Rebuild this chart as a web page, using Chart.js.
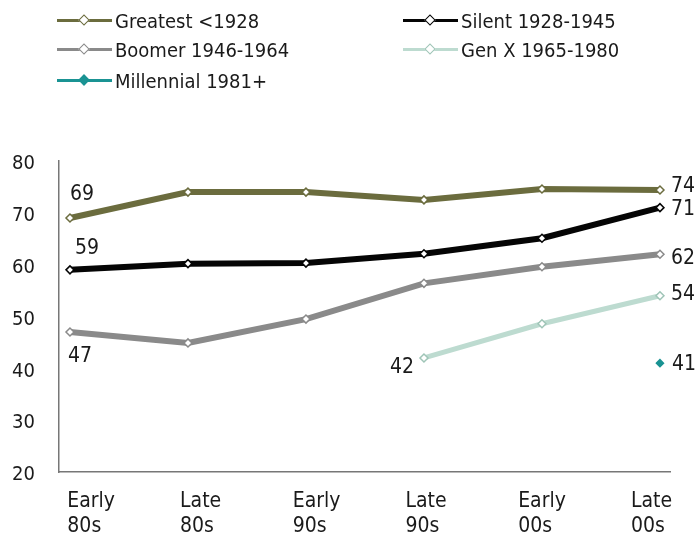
<!DOCTYPE html>
<html><head><meta charset="utf-8">
<script src="https://cdn.jsdelivr.net/npm/chart.js@4"></script>
<style>
html,body{margin:0;padding:0;background:#fff;}
#wrap{position:relative;width:696px;height:537px;overflow:hidden;}
canvas{position:absolute;left:0;top:0;}
.lg{position:absolute;font-family:'DejaVu Sans Condensed','DejaVu Sans',sans-serif;font-size:20px;color:#1a1a1a;white-space:nowrap;line-height:24px;}
.sw{position:absolute;height:3px;width:55px;}
.dm{position:absolute;width:6px;height:6px;transform:rotate(45deg);border:1.5px solid;box-sizing:content-box;}
</style></head>
<body><div id="wrap"><canvas id="c" width="696" height="537"></canvas><div id="legend"></div></div>
<script>
// ---- data ----
const categories = [['Early','80s'],['Late','80s'],['Early','90s'],['Late','90s'],['Early','00s'],['Late','00s']];
const seriesNames = ['Greatest <1928','Silent 1928-1945','Boomer 1946-1964','Gen X 1965-1980','Millennial 1981+'];
const greatest   = [69, 74, 74, 72.5, 74.6, 74.4];
const silent     = [59, 60.2, 60.3, 62.1, 65.1, 71];
const boomer     = [47, 44.9, 49.5, 56.4, 59.6, 62];
const genX       = [null, null, null, 42, 48.6, 54];
const millennial = [null, null, null, null, null, 41];
const yTicks = [20, 30, 40, 50, 60, 70, 80];

// ---- styles ----
const FONT = "'DejaVu Sans Condensed','DejaVu Sans',sans-serif";
const colors = ['#6b6c3e', '#050505', '#8a8a8a', '#bddbd0', '#1a9393'];
const lineWidths = [6, 6, 6, 5, 0];
const allSeries = [greatest, silent, boomer, genX, millennial];

const toXY = arr => arr.map((v, i) => ({x: i, y: v})).filter(p => p.y !== null);

const datasets = allSeries.map((arr, k) => ({
  label: seriesNames[k],
  data: toXY(arr),
  xAxisID: 'x',
  yAxisID: 'y',
  borderColor: colors[k],
  borderWidth: lineWidths[k],
  showLine: k !== 4,
  tension: 0,
  pointStyle: 'rectRot',
  pointRadius: k === 4 ? 3.5 : 4,
  pointBackgroundColor: k === 4 ? colors[k] : '#ffffff',
  pointBorderColor: k === 4 ? colors[k] : (k === 3 ? '#9fc5b7' : colors[k]),
  pointBorderWidth: 1.5
}));

// value label placements (dataset, index, offsets)
const labelSpots = [
  {ds:0, i:0, dx:0,   dy:-23, align:'left'},
  {ds:0, i:5, dx:11,  dy:-3,  align:'left'},
  {ds:1, i:0, dx:5,   dy:-21, align:'left'},
  {ds:1, i:5, dx:11,  dy:2,   align:'left'},
  {ds:2, i:0, dx:-2,  dy:24,  align:'left'},
  {ds:2, i:5, dx:11,  dy:4,   align:'left'},
  {ds:3, i:3, dx:-10, dy:10,  align:'right'},
  {ds:3, i:5, dx:11,  dy:-1,  align:'left'},
  {ds:4, i:5, dx:12,  dy:1,   align:'left'}
];

const valueLabels = {
  id: 'valueLabels',
  afterDatasetsDraw(chart) {
    const ctx = chart.ctx;
    ctx.save();
    ctx.font = '21px ' + FONT;
    ctx.fillStyle = '#1a1a1a';
    ctx.textBaseline = 'middle';
    labelSpots.forEach(s => {
      const meta = chart.getDatasetMeta(s.ds);
      const val = allSeries[s.ds][s.i];
      const idx = meta._parsed.findIndex(p => p.x === s.i);
      const el = meta.data[idx];
      if (!el) return;
      ctx.textAlign = s.align;
      ctx.fillText(String(Math.round(val)), el.x + s.dx, el.y + s.dy);
    });
    ctx.restore();
  }
};

new Chart(document.getElementById('c'), {
  type: 'line',
  data: { datasets },
  options: {
    responsive: false,
    animation: false,
    devicePixelRatio: 1,
    layout: { padding: { top: 161, right: 26, left: 0, bottom: 0 } },
    plugins: { legend: { display: false }, tooltip: { enabled: false } },
    scales: {
      x: { type: 'linear', display: false, min: -0.093, max: 5.085 },
      xl: {
        type: 'linear', position: 'bottom', min: -0.074, max: 5.347,
        afterBuildTicks: a => { a.ticks = categories.map((c, i) => ({value: i})); },
        afterFit: a => { a.height = 65; },
        grid: { display: false, drawTicks: false },
        border: { display: true, color: '#777777', width: 1.5 },
        ticks: {
          align: 'start', padding: 17, autoSkip: false, maxRotation: 0,
          color: '#1a1a1a', font: { family: FONT, size: 21, lineHeight: 1.2 },
          callback: v => categories[v]
        }
      },
      y: {
        type: 'linear', position: 'left', min: 20, max: 80,
        afterBuildTicks: a => { a.ticks = yTicks.map(v => ({value: v})); },
        afterFit: a => { a.width = 59; },
        grid: { display: false, drawTicks: false },
        border: { display: true, color: '#777777', width: 1.5 },
        ticks: { padding: 24, labelOffset: 3, color: '#1a1a1a', font: { family: FONT, size: 20 } }
      }
    }
  },
  plugins: [valueLabels]
});

// ---- HTML legend ----
const legendPos = [{x:57, y:20}, {x:403, y:20}, {x:57, y:49}, {x:403, y:49}, {x:57, y:80}];
const lg = document.getElementById('legend');
seriesNames.forEach((name, k) => {
  const p = legendPos[k];
  const sw = document.createElement('div');
  sw.className = 'sw';
  sw.style.left = p.x + 'px'; sw.style.top = (p.y - 1.5) + 'px';
  sw.style.background = colors[k];
  lg.appendChild(sw);
  const dm = document.createElement('div');
  dm.className = 'dm';
  dm.style.left = (p.x + 27.5 - 4.5) + 'px'; dm.style.top = (p.y - 4.5) + 'px';
  dm.style.borderColor = k === 3 ? '#9fc5b7' : colors[k];
  dm.style.background = k === 4 ? colors[k] : '#ffffff';
  lg.appendChild(dm);
  const t = document.createElement('div');
  t.className = 'lg';
  t.textContent = name;
  t.style.left = (p.x + 58) + 'px'; t.style.top = (p.y - 11) + 'px';
  lg.appendChild(t);
});
</script>
</body></html>
